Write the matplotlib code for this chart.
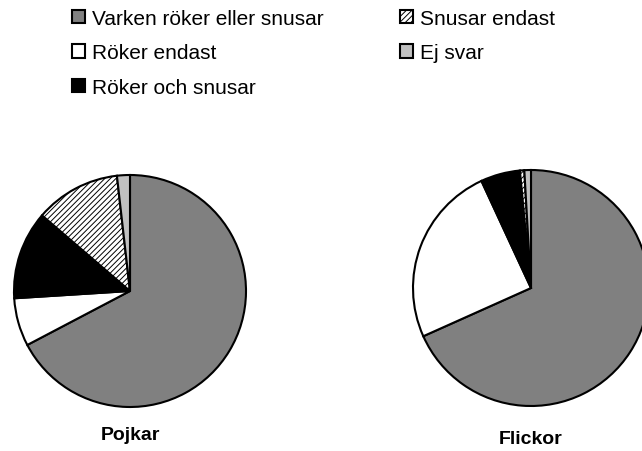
import matplotlib.pyplot as plt
from matplotlib.patches import Patch

plt.rcParams['font.family'] = ['Liberation Sans', 'DejaVu Sans']
plt.rcParams['hatch.linewidth'] = 0.7

categories = ['Varken röker eller snusar', 'Röker endast', 'Röker och snusar',
              'Snusar endast', 'Ej svar']
pojkar = [67.3, 6.7, 12.3, 11.9, 1.8]
flickor = [68.3, 24.8, 5.4, 0.6, 0.9]

colors = ['#808080', 'white', 'black', 'white', '#c0c0c0']
hatches = [None, None, None, '//////', None]

fig = plt.figure(figsize=(6.42, 4.52), dpi=100)

W, H = 642, 452


def draw_pie(cx, cy, r, values, title, ty):
    ax = fig.add_axes([(cx - r) / W, (H - cy - r) / H, 2 * r / W, 2 * r / H])
    wedges, _ = ax.pie(values, colors=colors, startangle=90, counterclock=False,
                       wedgeprops=dict(edgecolor='black', linewidth=1.5))
    for w, h in zip(wedges, hatches):
        if h:
            w.set_hatch(h)
        w.set_clip_on(False)
    ax.set_xlim(-1, 1)
    ax.set_ylim(-1, 1)
    ax.set_aspect('equal')
    fig.text(cx / W, 1 - ty / H, title, ha='center', va='center',
             fontsize=14, fontweight='bold')


draw_pie(130, 292, 116, pojkar, 'Pojkar', 436)
draw_pie(531, 289, 118, flickor, 'Flickor', 440)

handles = [Patch(facecolor=c, edgecolor='black', linewidth=1.5, hatch=h)
           for c, h in zip(colors, hatches)]

legend_kw = dict(loc='upper left', frameon=False, fontsize=15,
                 handlelength=0.62, handleheight=0.62, handletextpad=0.33,
                 labelspacing=0.74, borderaxespad=0, borderpad=0)
fig.legend(handles[:3], categories[:3],
           bbox_to_anchor=(72 / W, 1 - 10 / H), **legend_kw)
fig.legend(handles[3:], categories[3:],
           bbox_to_anchor=(400 / W, 1 - 10 / H), **legend_kw)

fig.savefig('out.png', dpi=100)
